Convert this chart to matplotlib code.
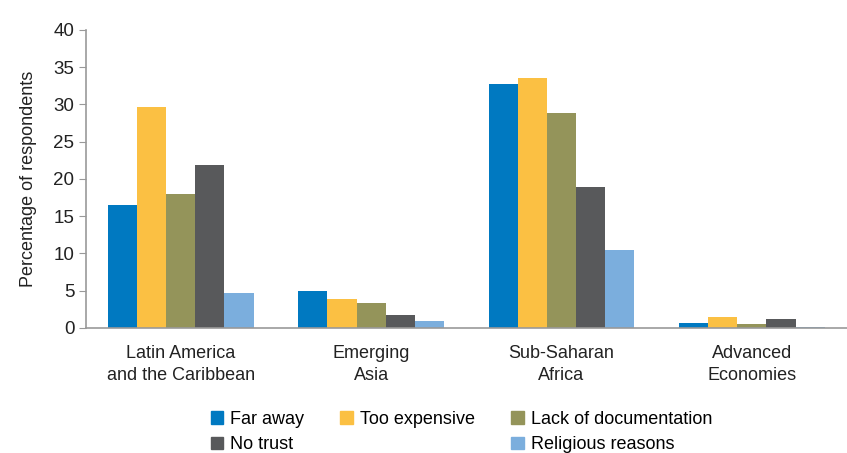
import numpy as np
import matplotlib.pyplot as plt
from matplotlib.patches import Patch

plt.rcParams['font.family'] = ['Liberation Sans', 'DejaVu Sans']

# regions and reasons for not having an account
regions = ['Latin America\nand the Caribbean', 'Emerging\nAsia', 'Sub-Saharan\nAfrica', 'Advanced\nEconomies']
reasons = ['Far away', 'Too expensive', 'Lack of documentation', 'No trust', 'Religious reasons']
colors = ['#0079C1', '#FBC043', '#94945A', '#58595B', '#7BAEDD']

far_away = [16.5, 4.9, 32.7, 0.7]
too_expensive = [29.6, 3.9, 33.6, 1.5]
lack_docs = [18.0, 3.4, 28.9, 0.6]
no_trust = [21.9, 1.8, 18.9, 1.2]
religious = [4.7, 0.9, 10.4, 0.1]
series = [far_away, too_expensive, lack_docs, no_trust, religious]

fig = plt.figure(figsize=(8.47, 4.53), dpi=100)
ax = fig.add_axes([0.101, 0.276, 0.899, 0.658])

x = np.arange(len(regions))
w = 0.153
for i, vals in enumerate(series):
    ax.bar(x + (i - 2) * w, vals, w, color=colors[i], label=reasons[i])

ax.set_xlim(-0.5, 3.5)
ax.set_ylim(0, 40)
ax.set_yticks(range(0, 41, 5))
ax.set_xticks(x)
ax.set_xticklabels(regions, fontsize=13, color='#222222', linespacing=1.45)
ax.tick_params(axis='x', length=0, pad=12)
ax.tick_params(axis='y', labelsize=13.5, colors='#999999', labelcolor='#222222', length=5, pad=3)
ax.set_ylabel('Percentage of respondents', fontsize=13, color='#222222', labelpad=12)
for s in ['top', 'right']:
    ax.spines[s].set_visible(False)
for s in ['left', 'bottom']:
    ax.spines[s].set_color('#999999')
    ax.spines[s].set_linewidth(1.2)

# legend: columns filled top to bottom, blank slot in column 2
h = [Patch(color=c) for c in colors]
blank = Patch(color='none')
handles = [h[0], h[3], h[1], blank, h[2], h[4]]
labels = [reasons[0], reasons[3], reasons[1], '', reasons[2], reasons[4]]
fig.legend(handles, labels, ncol=3, loc='center', bbox_to_anchor=(0.545, 0.046),
           frameon=False, fontsize=13, handlelength=0.7, handleheight=0.7,
           handletextpad=0.4, columnspacing=2.0, labelspacing=0.45)

fig.savefig('out.png', dpi=100)
